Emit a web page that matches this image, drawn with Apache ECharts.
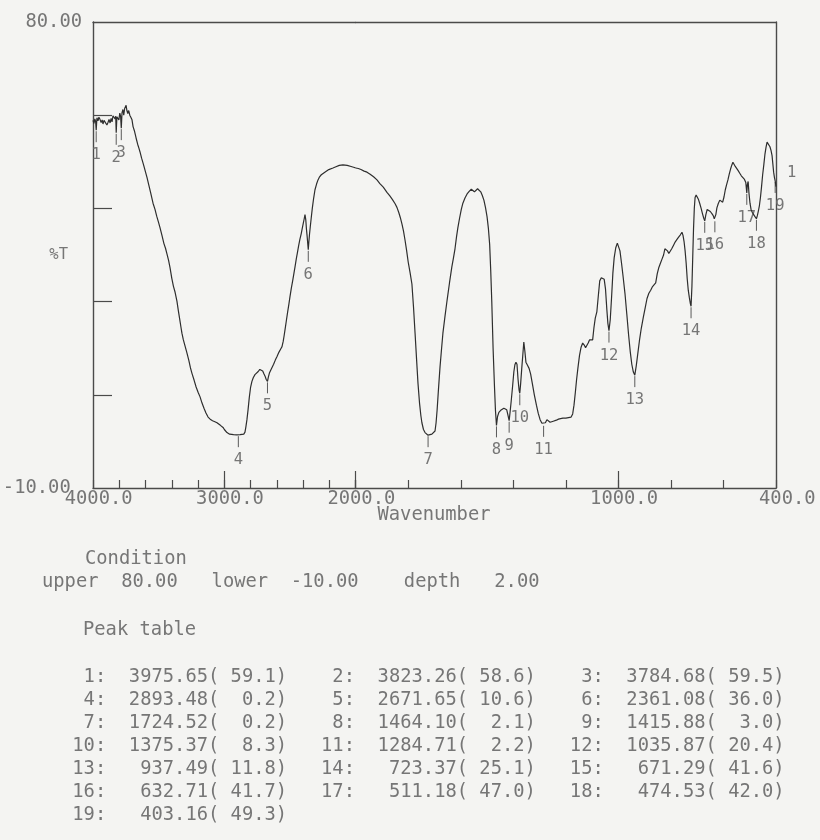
<!DOCTYPE html>
<html>
<head>
<meta charset="utf-8">
<script src="https://cdn.jsdelivr.net/npm/echarts@6/dist/echarts.min.js"></script>
<style>
  html, body { margin: 0; padding: 0; background: #f4f4f2; }
  #chart { width: 820px; height: 840px; }
</style>
</head>
<body>
<div id="chart"></div>
<script>
// IR transmittance trace: [wavenumber cm-1, %T]
const spectrum = [
  [4000, 61.0],[3993, 60.4],[3986, 61.3],[3980, 60.8],[3975.65, 59.1],[3970, 61.5],[3962, 60.9],[3955, 61.6],
  [3947, 61.2],[3938, 60.6],[3930, 61.1],[3924, 60.3],[3916, 61.0],[3908, 60.7],[3901, 61.3],[3894, 60.1],
  [3886, 60.6],[3878, 61.2],[3870, 60.5],[3862, 61.4],[3855, 60.7],[3848, 61.9],[3840, 62.1],[3832, 61.3],
  [3827, 61.8],[3823.26, 58.6],[3818, 61.7],[3810, 62.0],[3803, 61.1],[3796, 62.4],[3790, 61.8],[3784.68, 59.5],
  [3779, 62.5],[3772, 63.1],[3766, 62.0],[3759, 63.3],[3752, 63.0],[3748, 63.9],[3742, 62.9],[3735, 62.3],
  [3728, 62.9],[3720, 62.0],[3712, 61.6],[3703, 61.1],[3695, 59.8],[3685, 59.0],[3672, 57.6],[3660, 56.4],
  [3650, 55.6],[3642, 54.9],[3630, 53.7],[3615, 52.4],[3600, 51.0],[3589, 50.0],[3575, 48.5],[3560, 46.9],
  [3543, 45.0],[3528, 43.8],[3515, 42.5],[3500, 41.2],[3490, 40.3],[3475, 38.8],[3460, 37.2],[3448, 36.3],
  [3437, 35.2],[3425, 34.0],[3414, 32.6],[3400, 30.5],[3388, 29.0],[3375, 27.8],[3361, 26.1],[3350, 24.2],
  [3340, 22.6],[3330, 21.0],[3323, 19.9],[3312, 18.6],[3300, 17.5],[3285, 16.1],[3270, 14.6],[3258, 13.2],
  [3246, 12.1],[3230, 10.8],[3215, 9.5],[3200, 8.5],[3185, 7.6],[3170, 6.4],[3155, 5.4],[3140, 4.5],
  [3124, 3.7],[3108, 3.3],[3090, 3.0],[3072, 2.8],[3056, 2.6],[3042, 2.4],[3030, 2.1],[3020, 1.9],
  [3010, 1.7],[3000, 1.3],[2990, 1.0],[2980, 0.7],[2972, 0.5],[2960, 0.4],[2945, 0.4],[2930, 0.3],
  [2915, 0.3],[2905, 0.25],[2893.48, 0.2],[2880, 0.3],[2865, 0.3],[2852, 0.4],[2843, 0.8],[2836, 1.8],
  [2828, 3.2],[2820, 5.0],[2810, 7.5],[2800, 9.5],[2790, 10.6],[2780, 11.3],[2767, 11.9],[2755, 12.1],
  [2742, 12.5],[2730, 12.9],[2718, 12.9],[2708, 12.6],[2698, 12.0],[2690, 11.6],[2682, 11.0],[2676, 10.7],
  [2671.65, 10.6],[2665, 11.4],[2657, 12.2],[2648, 12.7],[2637, 13.0],[2625, 13.9],[2612, 14.7],[2599, 15.4],
  [2585, 16.2],[2572, 16.8],[2561, 17.3],[2552, 18.3],[2545, 19.4],[2538, 20.6],[2528, 22.3],[2518, 24.0],
  [2508, 25.6],[2500, 27.0],[2490, 28.6],[2480, 30.0],[2470, 31.5],[2462, 32.7],[2452, 34.3],[2444, 35.4],
  [2435, 36.7],[2425, 38.0],[2415, 39.1],[2408, 40.0],[2400, 41.0],[2392, 42.0],[2386, 42.8],[2380, 41.8],
  [2375, 40.0],[2370, 38.7],[2365, 37.2],[2361.08, 36.0],[2357, 37.4],[2352, 38.9],[2346, 40.4],[2338, 42.3],
  [2330, 44.1],[2320, 46.0],[2310, 47.6],[2298, 48.7],[2287, 49.5],[2275, 50.1],[2262, 50.5],[2249, 50.8],
  [2235, 51.0],[2220, 51.3],[2205, 51.5],[2190, 51.6],[2173, 51.8],[2155, 52.0],[2140, 52.1],[2125, 52.3],
  [2110, 52.3],[2097, 52.4],[2082, 52.3],[2065, 52.3],[2050, 52.2],[2035, 52.1],[2020, 52.0],[2010, 51.9],
  [2000, 51.8],
  [1990, 51.7],[1980, 51.5],[1968, 51.2],[1957, 51.0],[1945, 50.6],[1932, 50.1],[1919, 49.5],[1908, 48.8],
  [1895, 48.1],[1881, 47.1],[1870, 46.4],[1860, 45.7],[1850, 44.9],[1843, 44.2],[1836, 43.2],[1830, 42.2],
  [1824, 41.0],[1818, 39.6],[1812, 37.8],[1806, 35.8],[1800, 33.6],[1793, 31.6],[1786, 29.4],[1780, 25.0],
  [1774, 19.9],[1768, 14.6],[1763, 10.3],[1757, 6.4],[1752, 4.0],[1748, 2.6],[1742, 1.3],[1736, 0.7],
  [1730, 0.4],[1724.52, 0.2],[1718, 0.3],[1710, 0.4],[1703, 0.6],[1698, 1.0],[1694, 2.6],[1690, 5.1],
  [1685, 9.0],[1679, 13.4],[1673, 17.0],[1668, 19.9],[1660, 23.2],[1652, 26.3],[1643, 29.6],[1634, 32.7],
  [1628, 34.4],[1622, 36.2],[1616, 38.6],[1611, 40.3],[1605, 42.0],[1598, 43.8],[1592, 45.0],[1584, 46.0],
  [1576, 46.8],[1568, 47.3],[1560, 47.7],[1554, 47.5],[1548, 47.2],[1542, 47.5],[1536, 47.8],[1530, 47.7],
  [1524, 47.2],[1518, 46.5],[1512, 45.6],[1506, 44.2],[1500, 42.4],[1495, 40.2],[1490, 37.0],[1486, 32.0],
  [1482, 26.0],[1477, 17.0],[1472, 10.0],[1468, 5.0],[1464.10, 2.1],[1460, 3.8],[1455, 4.6],[1448, 5.0],
  [1442, 5.2],[1436, 5.4],[1430, 5.4],[1425, 5.1],[1420, 4.0],[1415.88, 3.0],[1412, 4.8],[1408, 6.8],
  [1403, 9.5],[1398, 12.4],[1394, 13.8],[1390, 14.3],[1386, 13.9],[1382, 11.0],[1378, 8.9],[1375.37, 8.3],
  [1372, 10.2],[1368, 13.0],[1364, 15.6],[1360, 18.2],[1356, 16.4],[1352, 14.3],[1346, 13.7],[1340, 13.1],
  [1334, 12.0],[1327, 10.0],[1320, 8.0],[1312, 6.0],[1305, 4.4],[1298, 3.2],[1291, 2.5],[1284.71, 2.2],
  [1278, 2.6],[1272, 3.2],[1266, 3.0],[1260, 2.7],[1254, 2.6],[1248, 2.9],[1242, 3.2],[1236, 3.1],
  [1228, 3.3],[1220, 3.4],[1211, 3.5],[1200, 3.5],[1190, 3.6],[1180, 3.7],[1174, 4.3],[1169, 6.0],
  [1164, 8.4],[1159, 11.0],[1154, 13.2],[1148, 15.6],[1142, 17.2],[1136, 18.0],[1130, 17.6],[1125, 17.1],
  [1120, 17.2],[1115, 18.0],[1110, 18.6],[1104, 18.3],[1098, 18.6],[1093, 21.0],[1088, 22.8],[1082, 24.0],
  [1077, 26.8],[1071, 30.0],[1065, 30.6],[1059, 30.8],[1054, 30.3],[1049, 28.4],[1044, 24.5],[1040, 21.8],
  [1035.87, 20.4],[1031, 22.5],[1026, 26.8],[1021, 31.5],[1016, 34.5],[1010, 36.4],[1004, 37.3],[999, 37.0],
  [994, 35.8],[988, 33.4],[982, 30.8],[975, 27.6],[968, 23.6],[961, 19.5],[955, 16.4],[949, 13.9],
  [943, 12.4],[937.49, 11.8],[932, 13.6],[926, 16.0],[920, 18.4],[913, 20.8],[905, 23.0],[898, 24.8],
  [891, 26.6],[884, 27.6],[877, 28.2],[870, 28.9],[863, 29.0],[858, 29.6],[852, 31.4],[846, 32.6],
  [840, 33.4],[834, 34.2],[828, 35.0],[823, 36.2],[818, 36.4],[813, 35.8],[808, 35.3],[803, 35.6],
  [797, 36.2],[790, 36.9],[784, 37.5],[777, 38.0],[770, 38.5],[764, 38.9],[758, 39.4],[754, 38.8],
  [750, 37.6],[746, 35.8],[742, 33.4],[738, 30.4],[734, 28.2],[730, 26.8],[726, 25.6],[723.37, 25.1],
  [720, 29.0],[717, 34.5],[714, 40.0],[711, 44.0],[708, 46.1],[704, 46.6],[700, 46.3],[695, 45.7],
  [690, 44.9],[685, 44.0],[680, 43.0],[675, 42.1],[671.29, 41.6],[667, 42.8],[662, 43.8],[656, 43.7],
  [650, 43.4],[644, 43.0],[639, 42.6],[635, 42.0],[632.71, 41.7],[629, 42.8],[625, 44.1],[620, 44.9],
  [614, 45.6],[608, 45.5],[603, 45.2],[598, 46.2],[593, 47.6],[588, 48.6],[583, 49.5],[578, 50.6],
  [573, 51.6],[568, 52.4],[564, 52.9],[560, 52.6],[555, 52.1],[549, 51.8],[544, 51.3],[538, 50.8],
  [532, 50.3],[526, 50.0],[520, 49.6],[515, 49.0],[511.18, 47.0],[509, 48.6],[506, 49.2],[503, 47.0],
  [499, 45.0],[495, 43.8],[490, 43.2],[485, 42.8],[480, 42.4],[477, 42.2],[474.53, 42.0],[471, 42.6],
  [467, 43.5],[463, 44.6],[459, 46.2],[455, 48.2],[451, 50.4],[446, 52.6],[442, 54.5],[438, 55.8],
  [434, 56.8],[430, 56.8],[427, 56.5],[423, 55.9],[419, 55.2],[415, 54.2],[412, 52.6],[409, 51.0],
  [406, 50.0],[403.16, 49.3],[400, 48.2]
];

// Peak table (wavenumber, %T)
const peakWave = [3975.65, 3823.26, 3784.68, 2893.48, 2671.65, 2361.08, 1724.52, 1464.10, 1415.88, 1375.37,
                  1284.71, 1035.87, 937.49, 723.37, 671.29, 632.71, 511.18, 474.53, 403.16];
const peakT = [59.1, 58.6, 59.5, 0.2, 10.6, 36.0, 0.2, 2.1, 3.0, 8.3,
               2.2, 20.4, 11.8, 25.1, 41.6, 41.7, 47.0, 42.0, 49.3];

// Scan conditions
const upperLimit = 80;
const lowerLimit = -10;
const peakDepth = 2;

// Axis ticks and labels
const scaleBreak = 2000;            // abscissa scale changes here
const minorStep = 200;
const majorTicksHigh = [3000, 2000];
const majorTicksLow = [1000];
const xLabelsHigh = [4000, 3000, 2000];
const xLabelsLow = [1000, 400];
const yTicks = [8, 26, 44, 62];
const yLabels = [-10, 80];

const MONO = '"DejaVu Sans Mono", monospace';
const INK = '#2e2e2e';
const FRAME = '#4a4a4a';
const TEXT = '#767676';
const BIG = 18.8;
const SMALL = 15.5;

const highPart = spectrum.filter(p => p[0] >= scaleBreak);
const lowPart = spectrum.filter(p => p[0] <= scaleBreak);
const peaks = peakWave.map((w, i) => [w, peakT[i], i + 1]);
const peaksHigh = peaks.filter(p => p[0] >= scaleBreak);
const peaksLow = peaks.filter(p => p[0] < scaleBreak);

const axisText = { fontFamily: MONO, fontSize: BIG, color: TEXT };
const lineFrame = { color: FRAME, width: 1.4 };

function xLabel(v) { return v.toFixed(1).padStart(7, ' '); }

function frameAxis(grid, pos, min, max) {
  return {
    gridIndex: grid, type: 'value', position: pos, min, max, inverse: true,
    axisLine: { show: true, onZero: false, lineStyle: lineFrame },
    axisTick: { show: false }, axisLabel: { show: false }, splitLine: { show: false }
  };
}
function minorAxis(grid, min, max) {
  return {
    gridIndex: grid, type: 'value', position: 'bottom', min, max, inverse: true, interval: minorStep,
    axisLine: { show: true, onZero: false, lineStyle: lineFrame },
    axisTick: { show: true, inside: true, length: 8, lineStyle: { color: FRAME, width: 1.2 } },
    axisLabel: { show: false }, splitLine: { show: false }
  };
}
function majorAxis(grid, min, max, ticks, labels) {
  return {
    gridIndex: grid, type: 'value', position: 'bottom', offset: 0, min, max, inverse: true,
    axisLine: { show: false, onZero: false },
    axisTick: { show: true, inside: true, length: 17, customValues: ticks, lineStyle: { color: FRAME, width: 1.2 } },
    axisLabel: Object.assign({ show: true, customValues: labels, margin: 2, formatter: xLabel,
                               showMinLabel: true, showMaxLabel: true }, axisText),
    splitLine: { show: false }
  };
}

function renderPeak(params, api) {
  const p = api.coord([api.value(0), api.value(1)]);
  return {
    type: 'group',
    children: [
      { type: 'line', shape: { x1: p[0], y1: p[1] + 1, x2: p[0], y2: p[1] + 12 },
        style: { stroke: '#5a5a5a', lineWidth: 1 } },
      { type: 'text', style: { x: p[0], y: p[1] + 17, text: String(api.value(2)), align: 'center',
        verticalAlign: 'top', font: SMALL + 'px ' + MONO, fill: TEXT } }
    ]
  };
}

const peakCell = i => String(i + 1).padStart(3, ' ') + ':  ' + peakWave[i].toFixed(2).padStart(7, ' ') +
                      '(' + peakT[i].toFixed(1).padStart(5, ' ') + ')';
const tableRows = [];
for (let i = 0; i < peakWave.length; i += 3) {
  const cells = [];
  for (let j = i; j < Math.min(i + 3, peakWave.length); j++) cells.push(peakCell(j));
  tableRows.push(cells.join('  '));
}
const conditionLine = 'upper  ' + upperLimit.toFixed(2) + '   lower  ' + lowerLimit.toFixed(2) +
                      '    depth   ' + peakDepth.toFixed(2);

const font = BIG + 'px ' + MONO;
const textItem = (txt, x, y, align) => ({
  type: 'text', x, y, silent: true,
  style: { text: txt, font, fill: TEXT, align: align || 'left', verticalAlign: 'middle' }
});
const graphics = [
  textItem('Wavenumber', 434, 515, 'center'),
  textItem('Condition', 85, 559),
  textItem(conditionLine, 42, 582),
  textItem('Peak table', 83, 630)
].concat(tableRows.map((r, k) => textItem(r, 61, 677 + 23 * k)));

const gridBase = { top: 22, height: 466, containLabel: false, outerBoundsMode: 'none' };

const chart = echarts.init(document.getElementById('chart'), null, { renderer: 'canvas' });
chart.setOption({
  backgroundColor: '#f4f4f2',
  animation: false,
  grid: [
    Object.assign({ left: 93, width: 262.7 }, gridBase),
    Object.assign({ left: 355.7, width: 420.3 }, gridBase)
  ],
  xAxis: [
    minorAxis(0, scaleBreak, 4000),
    majorAxis(0, scaleBreak, 4000, majorTicksHigh, xLabelsHigh),
    minorAxis(1, 400, scaleBreak),
    majorAxis(1, 400, scaleBreak, majorTicksLow, xLabelsLow),
    frameAxis(0, 'top', scaleBreak, 4000),
    frameAxis(1, 'top', 400, scaleBreak)
  ],
  yAxis: [
    {
      gridIndex: 0, type: 'value', position: 'left', min: lowerLimit, max: upperLimit,
      axisLine: { show: true, onZero: false, lineStyle: lineFrame },
      axisTick: { show: true, inside: true, length: 19, customValues: yTicks, lineStyle: { color: FRAME, width: 1.2 } },
      axisLabel: Object.assign({ show: true, customValues: yLabels, margin: 11,
        formatter: v => v < 0 ? v.toFixed(2) + ' ' : v.toFixed(2) }, axisText),
      splitLine: { show: false },
      name: '%T', nameLocation: 'middle', nameRotate: 0, nameGap: 25, nameMoveOverlap: false,
      nameTextStyle: { fontFamily: MONO, fontSize: SMALL, color: TEXT }
    },
    {
      gridIndex: 1, type: 'value', position: 'right', min: lowerLimit, max: upperLimit,
      axisLine: { show: true, onZero: false, lineStyle: lineFrame },
      axisTick: { show: false }, axisLabel: { show: false }, splitLine: { show: false }
    }
  ],
  series: [
    { type: 'line', xAxisIndex: 0, yAxisIndex: 0, data: highPart, showSymbol: false, symbol: 'none',
      lineStyle: { color: INK, width: 1.2 }, silent: true },
    { type: 'line', xAxisIndex: 2, yAxisIndex: 1, data: lowPart, showSymbol: false, symbol: 'none',
      lineStyle: { color: INK, width: 1.2 }, silent: true,
      endLabel: { show: true, formatter: '1', align: 'left', offset: [19, -14],
                  fontFamily: MONO, fontSize: SMALL, color: TEXT } },
    { type: 'custom', xAxisIndex: 0, yAxisIndex: 0, data: peaksHigh, encode: { x: 0, y: 1 },
      renderItem: renderPeak, silent: true, z: 3 },
    { type: 'custom', xAxisIndex: 2, yAxisIndex: 1, data: peaksLow, encode: { x: 0, y: 1 },
      renderItem: renderPeak, silent: true, z: 3 }
  ],
  graphic: graphics
});
</script>
</body>
</html>
